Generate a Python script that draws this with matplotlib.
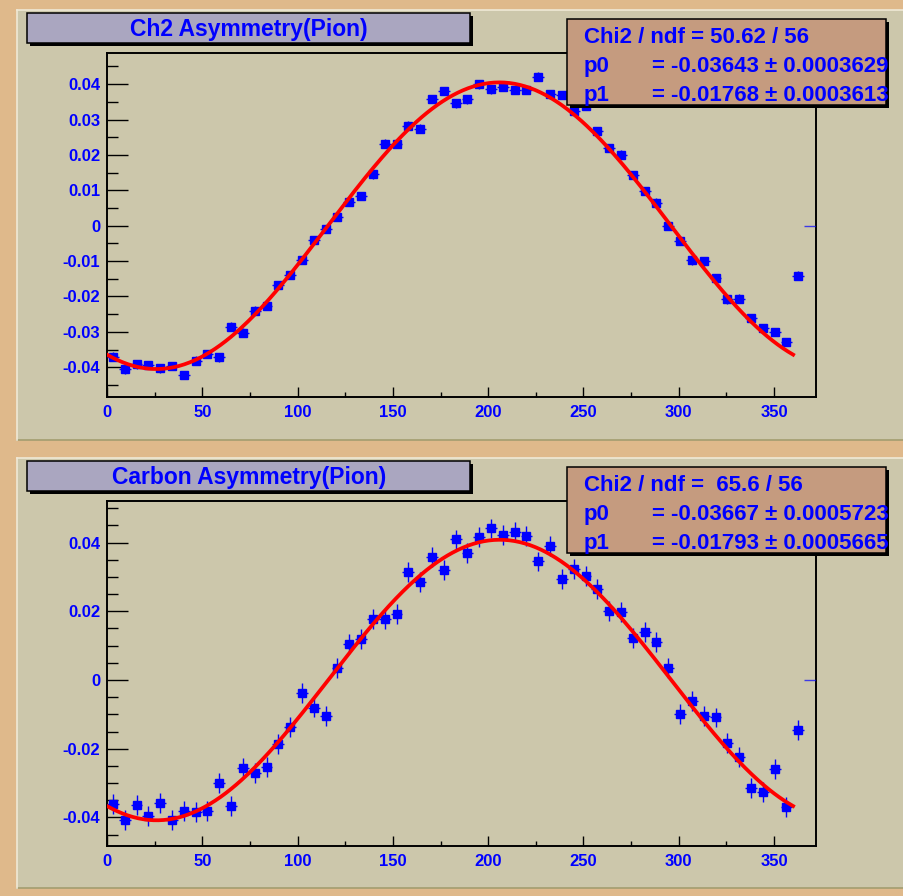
"""
Pion asymmetry vs. azimuthal angle (CH2 and carbon targets), ROOT-style canvas.
Fit: p0*cos(phi) + p1*sin(phi)
"""
import matplotlib

matplotlib.use("Agg")
import matplotlib.pyplot as plt
import numpy as np
from matplotlib.patches import Rectangle
from matplotlib.ticker import FixedLocator

# ──────────────────────────────────────────────
# DATA
# ──────────────────────────────────────────────
# 60 bins over 0..372 deg, last bin is empty
bin_edges = np.linspace(0, 372, 61)
fit_range = (0, 360)

ch2_asym = [
    -0.0370, -0.0406, -0.0392, -0.0393, -0.0403, -0.0396, -0.0422, -0.0381, -0.0362, -0.0372,
    -0.0285, -0.0302, -0.0240, -0.0226, -0.0168, -0.0139, -0.0097, -0.0041, -0.0009, 0.0024,
    0.0068, 0.0084, 0.0145, 0.0232, 0.0232, 0.0283, 0.0274, 0.0358, 0.0381, 0.0346,
    0.0357, 0.0399, 0.0385, 0.0392, 0.0384, 0.0384, 0.0421, 0.0371, 0.0369, 0.0325,
    0.0338, 0.0267, 0.0220, 0.0201, 0.0143, 0.0098, 0.0065, 0.0000, -0.0042, -0.0098,
    -0.0101, -0.0148, -0.0208, -0.0206, -0.0262, -0.0290, -0.0301, -0.0328, -0.0141,
]
ch2_err = 0.0012

carbon_asym = [
    -0.0361, -0.0406, -0.0365, -0.0396, -0.0359, -0.0408, -0.0381, -0.0384, -0.0381, -0.0301,
    -0.0367, -0.0257, -0.0270, -0.0254, -0.0185, -0.0136, -0.0039, -0.0080, -0.0105, 0.0034,
    0.0105, 0.0120, 0.0177, 0.0177, 0.0193, 0.0314, 0.0284, 0.0359, 0.0320, 0.0409,
    0.0369, 0.0417, 0.0441, 0.0423, 0.0430, 0.0420, 0.0345, 0.0391, 0.0293, 0.0322,
    0.0304, 0.0265, 0.0201, 0.0199, 0.0121, 0.0140, 0.0111, 0.0034, -0.0099, -0.0060,
    -0.0105, -0.0109, -0.0183, -0.0223, -0.0313, -0.0326, -0.0259, -0.0369, -0.0146,
]
carbon_err = 0.0029

# fit results shown in the stat boxes
ch2_fit = {"chi2": "50.62 / 56", "p0": -0.03643, "e0": "0.0003629",
           "p1": -0.01768, "e1": "0.0003613"}
carbon_fit = {"chi2": " 65.6 / 56", "p0": -0.03667, "e0": "0.0005723",
              "p1": -0.01793, "e1": "0.0005665"}

titles = ["Ch2 Asymmetry(Pion)", "Carbon Asymmetry(Pion)"]

x_major = [0, 50, 100, 150, 200, 250, 300, 350]
x_minor = [25, 75, 125, 175, 225, 275, 325]
ch2_yticks = [-0.04, -0.03, -0.02, -0.01, 0, 0.01, 0.02, 0.03, 0.04]
ch2_ylabels = ["-0.04", "-0.03", "-0.02", "-0.01", "0", "0.01", "0.02", "0.03", "0.04"]
carbon_yticks = [-0.04, -0.02, 0, 0.02, 0.04]
carbon_ylabels = ["-0.04", "-0.02", "0", "0.02", "0.04"]

# ──────────────────────────────────────────────
# STYLE
# ──────────────────────────────────────────────
W, H = 904, 896
OUTER = "#dfb98b"
PAD = "#ccc7ab"
TITLE_BOX = "#aaa6c0"
STAT_BOX = "#c59b7f"
BLUE = "#0000ff"
FONT = "Liberation Sans"

plt.rcParams["axes.unicode_minus"] = False
plt.rcParams["font.family"] = [FONT, "DejaVu Sans"]


def fx(x):
    return x / W


def fy(y):
    return 1 - y / H


def box(fig, x0, y0, x1, y1, color, shadow=3, z=5):
    if shadow:
        fig.add_artist(Rectangle((fx(x0 + shadow), fy(y1 + shadow)), (x1 - x0) / W,
                                 (y1 - y0) / H, transform=fig.transFigure,
                                 facecolor="black", edgecolor="none", zorder=z))
    fig.add_artist(Rectangle((fx(x0), fy(y1)), (x1 - x0) / W, (y1 - y0) / H,
                             transform=fig.transFigure, facecolor=color,
                             edgecolor="black", linewidth=1.1, zorder=z + 0.1))


def draw_panel(fig, dy, values, err, fit, title, yticks, ylabels, ylim):
    # pad
    fig.add_artist(Rectangle((fx(17), fy(440 + dy)), (W - 17) / W, 430 / H,
                             transform=fig.transFigure, facecolor=PAD,
                             edgecolor="none", zorder=-2))
    fig.add_artist(plt.Line2D([fx(17), fx(W)], [fy(440 + dy)] * 2,
                              transform=fig.transFigure, color="#a39d70", lw=1.2, zorder=-1))
    fig.add_artist(plt.Line2D([fx(17), fx(W)], [fy(10 + dy)] * 2,
                              transform=fig.transFigure, color="#efe9d6", lw=1.2, zorder=-1))
    fig.add_artist(plt.Line2D([fx(17.5)] * 2, [fy(10 + dy), fy(440 + dy)],
                              transform=fig.transFigure, color="#efe9d6", lw=1.2, zorder=-1))

    ax = fig.add_axes([fx(107), fy(397 + dy) if dy == 0 else fy(846),
                       (816 - 107) / W,
                       (344 if dy == 0 else 345) / H])
    ax.set_facecolor("none")

    centers = 0.5 * (bin_edges[:-1] + bin_edges[1:])
    half = 0.5 * np.diff(bin_edges)
    n = len(values)
    ax.errorbar(centers[:n], values, yerr=err, xerr=half[:n], fmt="s", color=BLUE,
                ms=6.0, mec=BLUE, elinewidth=1.0, capsize=0, zorder=3)
    # empty last bin: only the horizontal bar is drawn
    ax.errorbar(centers[n:], np.zeros(len(centers) - n), xerr=half[n:], fmt="none",
                ecolor=BLUE, elinewidth=1.0, alpha=0.7, zorder=3)

    phi = np.linspace(fit_range[0], fit_range[1], 400)
    rad = np.deg2rad(phi)
    ax.plot(phi, fit["p0"] * np.cos(rad) + fit["p1"] * np.sin(rad), color="red",
            lw=2.7, zorder=4)

    ax.set_xlim(bin_edges[0], bin_edges[-1])
    ax.set_ylim(*ylim)
    ax.xaxis.set_major_locator(FixedLocator(x_major))
    ax.xaxis.set_minor_locator(FixedLocator(x_minor))
    ax.yaxis.set_major_locator(FixedLocator(yticks))
    ax.set_yticklabels(ylabels)
    ax.yaxis.set_minor_locator(FixedLocator(np.arange(-0.045, 0.0501, 0.005)))
    ax.tick_params(axis="both", which="both", direction="in", colors="black",
                   labelcolor=BLUE, width=1.0)
    ax.tick_params(axis="y", which="major", length=15, pad=5)
    ax.tick_params(axis="y", which="minor", length=8)
    ax.tick_params(axis="x", which="major", length=7, pad=6)
    ax.tick_params(axis="x", which="minor", length=3.6)
    for lab in ax.get_xticklabels() + ax.get_yticklabels():
        lab.set_fontweight("bold")
        lab.set_fontsize(12)
    for sp in ax.spines.values():
        sp.set_linewidth(1.4)

    # title box
    box(fig, 27, 13 + dy, 470, 43 + dy, TITLE_BOX)
    fig.text(fx(249), fy(36 + dy), title, ha="center", va="baseline", color=BLUE,
             fontsize=16.5, fontweight="bold", zorder=7)

    # stats box
    box(fig, 567, 19 + dy, 886, 105 + dy, STAT_BOX)
    kw = dict(va="baseline", color=BLUE, fontsize=16, fontweight="bold", zorder=7)
    fig.text(fx(584), fy(43.3 + dy), f"Chi2 / ndf = {fit['chi2']}", **kw)
    fig.text(fx(584), fy(71.7 + dy), "p0", **kw)
    fig.text(fx(652), fy(71.7 + dy), f"= {fit['p0']:.5f} \u00b1 {fit['e0']}", **kw)
    fig.text(fx(584), fy(100.7 + dy), "p1", **kw)
    fig.text(fx(652), fy(100.7 + dy), f"= {fit['p1']:.5f} \u00b1 {fit['e1']}", **kw)
    return ax


def main():
    fig = plt.figure(figsize=(W / 100, H / 100), dpi=100, facecolor=OUTER)
    draw_panel(fig, 0, ch2_asym, ch2_err, ch2_fit, titles[0],
               ch2_yticks, ch2_ylabels, (-0.0484, 0.0488))
    draw_panel(fig, 448, carbon_asym, carbon_err, carbon_fit, titles[1],
               carbon_yticks, carbon_ylabels, (-0.0483, 0.0521))
    fig.savefig("out.png", dpi=100, facecolor=OUTER)
    plt.close(fig)


if __name__ == "__main__":
    main()
